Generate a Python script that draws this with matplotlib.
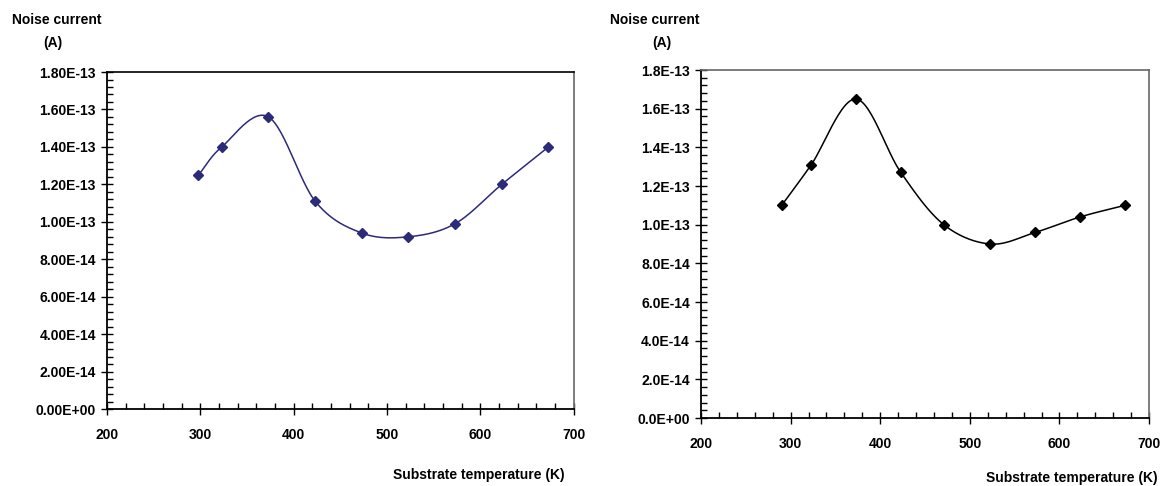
"""Noise current versus substrate temperature, two sample series side by side."""

import matplotlib.pyplot as plt
import numpy as np
from matplotlib.ticker import MultipleLocator, FormatStrFormatter

plt.rcParams["font.family"] = ["Liberation Sans", "DejaVu Sans"]
plt.rcParams["font.weight"] = "bold"

# measured points, left panel
temp_a = [298, 323, 373, 423, 473, 523, 573, 623, 673]
noise_a = [1.25e-13, 1.40e-13, 1.56e-13, 1.11e-13, 0.94e-13, 0.92e-13, 0.99e-13, 1.20e-13, 1.40e-13]

# measured points, right panel
temp_b = [290, 323, 373, 423, 471, 523, 573, 623, 673]
noise_b = [1.10e-13, 1.31e-13, 1.65e-13, 1.27e-13, 1.00e-13, 0.90e-13, 0.96e-13, 1.04e-13, 1.10e-13]

y_ticks_a = ["0.00E+00", "2.00E-14", "4.00E-14", "6.00E-14", "8.00E-14",
             "1.00E-13", "1.20E-13", "1.40E-13", "1.60E-13", "1.80E-13"]
y_ticks_b = ["0.0E+00", "2.0E-14", "4.0E-14", "6.0E-14", "8.0E-14",
             "1.0E-13", "1.2E-13", "1.4E-13", "1.6E-13", "1.8E-13"]

FS = 10


def smooth(x, y, n=30):
    # Catmull-Rom style smoothing, like a spreadsheet "smoothed line"
    x = np.asarray(x, float)
    y = np.asarray(y, float)
    px = np.concatenate([[2 * x[0] - x[1]], x, [2 * x[-1] - x[-2]]])
    py = np.concatenate([[2 * y[0] - y[1]], y, [2 * y[-1] - y[-2]]])
    xs, ys = [], []
    t = np.linspace(0, 1, n)
    for i in range(1, len(px) - 2):
        for p, out in ((px, xs), (py, ys)):
            p0, p1, p2, p3 = p[i - 1], p[i], p[i + 1], p[i + 2]
            out.extend(0.5 * ((2 * p1) + (-p0 + p2) * t
                              + (2 * p0 - 5 * p1 + 4 * p2 - p3) * t ** 2
                              + (-p0 + 3 * p1 - 3 * p2 + p3) * t ** 3))
    return np.array(xs), np.array(ys)


def panel(ax, temps, noise, labels, color):
    sx, sy = smooth(temps, noise)
    ax.plot(sx, sy, color=color, lw=1.1)
    ax.plot(temps, noise, ls="none", marker="D", ms=5.5, color=color)
    ax.set_xlim(200, 700)
    ax.set_ylim(0, 1.8e-13)
    ax.xaxis.set_major_locator(MultipleLocator(100))
    ax.xaxis.set_minor_locator(MultipleLocator(20))
    ax.yaxis.set_minor_locator(MultipleLocator(4e-15))
    ax.set_yticks(np.arange(10) * 2e-14)
    ax.set_yticklabels(labels)
    ax.xaxis.set_major_formatter(FormatStrFormatter("%d"))
    ax.tick_params(which="major", direction="inout", length=8, width=1, labelsize=FS)
    ax.tick_params(which="minor", direction="in", length=4, width=1)
    ax.tick_params(axis="x", which="major", pad=10)
    ax.tick_params(axis="y", which="major", pad=4)
    for s in ("left", "bottom"):
        ax.spines[s].set_linewidth(1.3)
        ax.spines[s].set_color("black")
    ax.spines["right"].set_color("0.45")
    ax.spines["right"].set_linewidth(1.3)
    ax.spines["top"].set_linewidth(1.2)


fig = plt.figure(figsize=(11.67, 4.86), dpi=100)
ax1 = fig.add_axes([0.0917, 0.1584, 0.3999, 0.6934])
ax2 = fig.add_axes([0.6007, 0.1399, 0.3839, 0.716])

panel(ax1, temp_a, noise_a, y_ticks_a, "#2b2b7a")
panel(ax2, temp_b, noise_b, y_ticks_b, "black")
ax1.spines["top"].set_color("black")
ax2.spines["top"].set_color("0.4")

fig.text(0.010, 0.959, "Noise current", fontsize=FS, va="center", ha="left")
fig.text(0.0455, 0.911, "(A)", fontsize=FS, va="center", ha="center")
fig.text(0.523, 0.959, "Noise current", fontsize=FS, va="center", ha="left")
fig.text(0.567, 0.911, "(A)", fontsize=FS, va="center", ha="center")
fig.text(0.484, 0.023, "Substrate temperature (K)", fontsize=FS, va="center", ha="right")
fig.text(0.992, 0.016, "Substrate temperature (K)", fontsize=FS, va="center", ha="right")

fig.savefig("out.png", dpi=100)
